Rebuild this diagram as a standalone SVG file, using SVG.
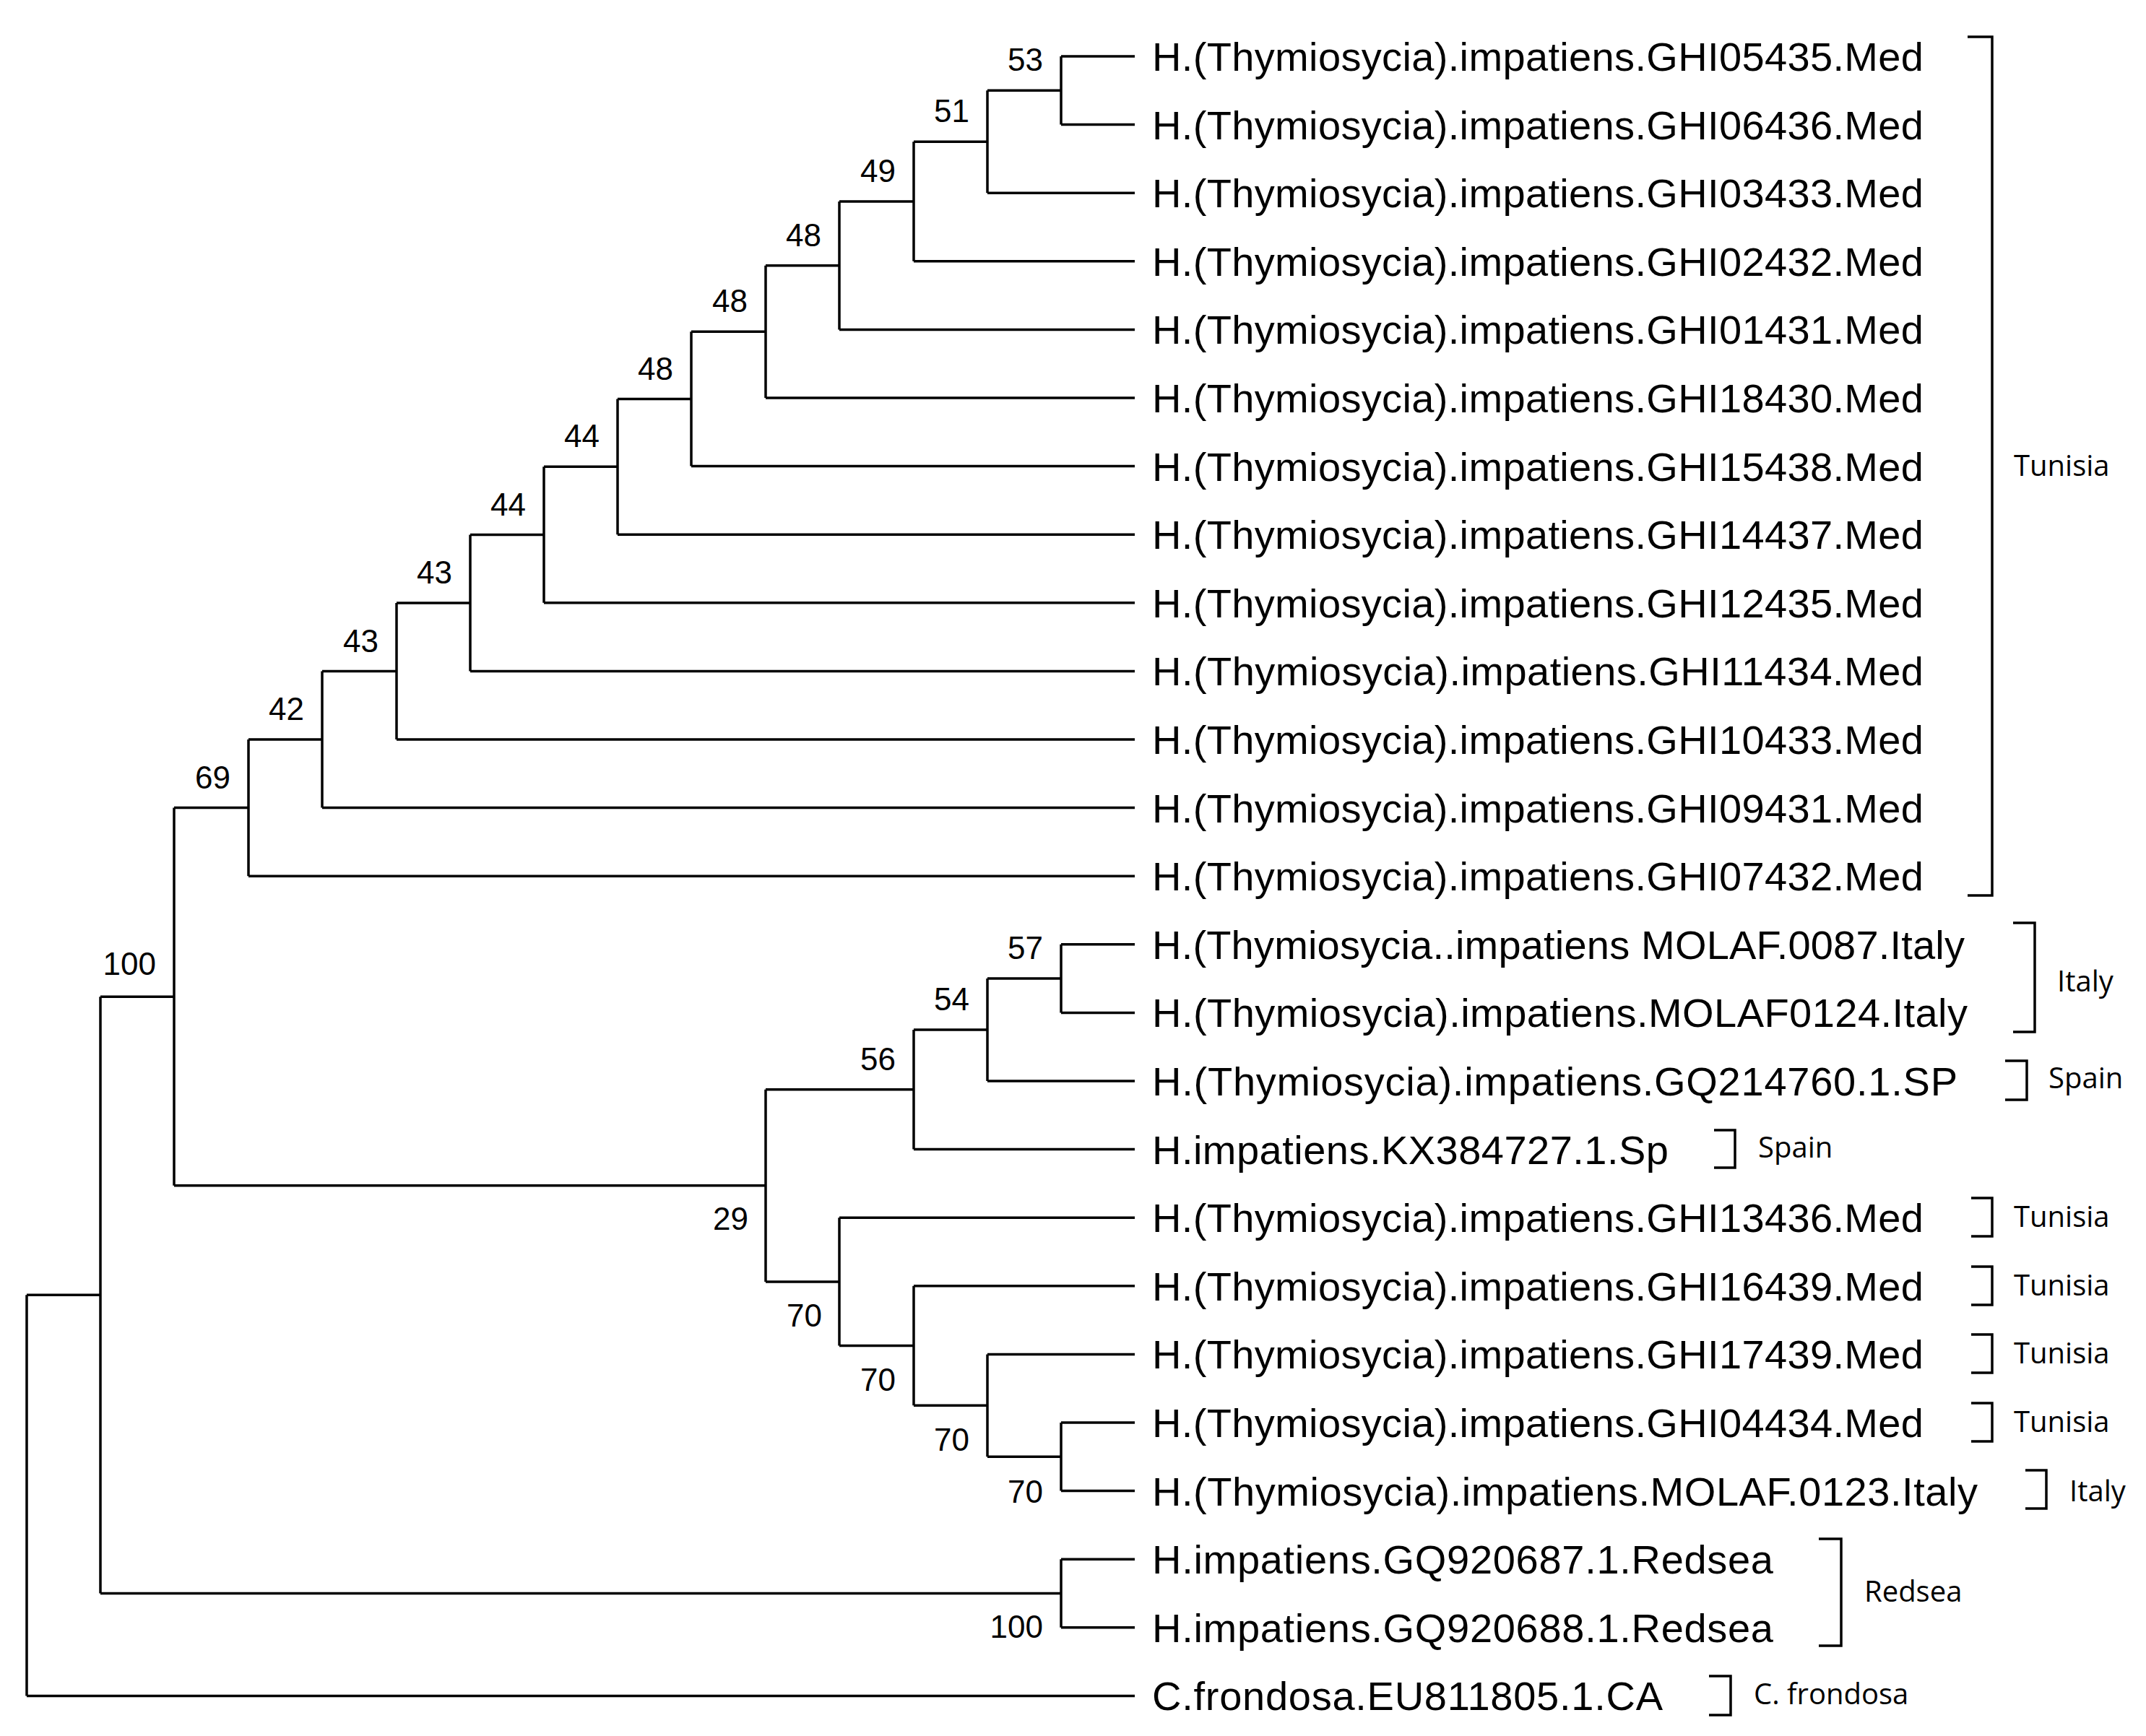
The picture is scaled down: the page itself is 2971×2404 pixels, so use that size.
<svg xmlns="http://www.w3.org/2000/svg" width="2971" height="2404" viewBox="0 0 2971 2404">
<style>
.t{fill:none;stroke:#000;stroke-width:3.5}
.b{fill:none;stroke:#000;stroke-width:3.5}
.bs{font-family:"Liberation Sans",Arial,sans-serif;font-size:44px;fill:#000;text-anchor:end}
.lf{font-family:"Liberation Sans",Arial,sans-serif;font-size:56px;fill:#000}
.rg{font-family:"Open Sans","Liberation Sans",sans-serif;font-size:40px;fill:#000}
</style>
<rect width="2971" height="2404" fill="#fff"/>
<g id="connectors">
<path class="t" d="M1469,78V172.6M1469,78H1571M1469,172.6H1571
M1367,125.3V267.2M1367,125.3H1469M1367,267.2H1571
M1265,196.25V361.8M1265,196.25H1367M1265,361.8H1571
M1162,279V456.4M1162,279H1265M1162,456.4H1571
M1060,367.7V551M1060,367.7H1162M1060,551H1571
M957,459.35V645.6M957,459.35H1060M957,645.6H1571
M855,552.5V740.2M855,552.5H957M855,740.2H1571
M753,646.35V834.8M753,646.35H855M753,834.8H1571
M651,740.6V929.4M651,740.6H753M651,929.4H1571
M549,835V1024M549,835H651M549,1024H1571
M446,929.5V1118.6M446,929.5H549M446,1118.6H1571
M344,1024.05V1213.2M344,1024.05H446M344,1213.2H1571
M1469,1307.8V1402.4M1469,1307.8H1571M1469,1402.4H1571
M1367,1355.1V1497M1367,1355.1H1469M1367,1497H1571
M1265,1426V1591.6M1265,1426H1367M1265,1591.6H1571
M1469,1970V2064.6M1469,1970H1571M1469,2064.6H1571
M1367,1875.4V2017.3M1367,1875.4H1571M1367,2017.3H1469
M1265,1780.8V1946.35M1265,1780.8H1571M1265,1946.35H1367
M1162,1686.2V1863.6M1162,1686.2H1571M1162,1863.6H1265
M1060,1508.8V1774.9M1060,1508.8H1265M1060,1774.9H1162
M241,1118.6V1641.85M241,1118.6H344M241,1641.85H1060
M1469,2159.2V2253.8M1469,2159.2H1571M1469,2253.8H1571
M139,1380.2V2206.5M139,1380.2H241M139,2206.5H1469
M37,1793.35V2348.4M37,1793.35H139M37,2348.4H1571"/>
</g>
<g id="bootstrap">
<text class="bs" x="1444" y="98">53</text>
<text class="bs" x="1342" y="169">51</text>
<text class="bs" x="1240" y="252">49</text>
<text class="bs" x="1137" y="341">48</text>
<text class="bs" x="1035" y="432">48</text>
<text class="bs" x="932" y="526">48</text>
<text class="bs" x="830" y="619">44</text>
<text class="bs" x="728" y="714">44</text>
<text class="bs" x="626" y="808">43</text>
<text class="bs" x="524" y="903">43</text>
<text class="bs" x="421" y="997">42</text>
<text class="bs" x="319" y="1092">69</text>
<text class="bs" x="216" y="1350">100</text>
<text class="bs" x="1444" y="1328">57</text>
<text class="bs" x="1342" y="1399">54</text>
<text class="bs" x="1240" y="1482">56</text>
<text class="bs" x="1036" y="1703">29</text>
<text class="bs" x="1138" y="1837">70</text>
<text class="bs" x="1240" y="1926">70</text>
<text class="bs" x="1342" y="2009">70</text>
<text class="bs" x="1444" y="2081">70</text>
<text class="bs" x="1444" y="2268">100</text>
</g>
<g id="leaves">
<text class="lf" x="1595" y="98" textLength="1068">H.(Thymiosycia).impatiens.GHI05435.Med</text>
<text class="lf" x="1595" y="192.6" textLength="1068">H.(Thymiosycia).impatiens.GHI06436.Med</text>
<text class="lf" x="1595" y="287.2" textLength="1068">H.(Thymiosycia).impatiens.GHI03433.Med</text>
<text class="lf" x="1595" y="381.8" textLength="1068">H.(Thymiosycia).impatiens.GHI02432.Med</text>
<text class="lf" x="1595" y="476.4" textLength="1068">H.(Thymiosycia).impatiens.GHI01431.Med</text>
<text class="lf" x="1595" y="571" textLength="1068">H.(Thymiosycia).impatiens.GHI18430.Med</text>
<text class="lf" x="1595" y="665.6" textLength="1068">H.(Thymiosycia).impatiens.GHI15438.Med</text>
<text class="lf" x="1595" y="760.2" textLength="1068">H.(Thymiosycia).impatiens.GHI14437.Med</text>
<text class="lf" x="1595" y="854.8" textLength="1068">H.(Thymiosycia).impatiens.GHI12435.Med</text>
<text class="lf" x="1595" y="949.4" textLength="1068">H.(Thymiosycia).impatiens.GHI11434.Med</text>
<text class="lf" x="1595" y="1044" textLength="1068">H.(Thymiosycia).impatiens.GHI10433.Med</text>
<text class="lf" x="1595" y="1138.6" textLength="1068">H.(Thymiosycia).impatiens.GHI09431.Med</text>
<text class="lf" x="1595" y="1233.2" textLength="1068">H.(Thymiosycia).impatiens.GHI07432.Med</text>
<text class="lf" x="1595" y="1327.8" textLength="1125">H.(Thymiosycia..impatiens MOLAF.0087.Italy</text>
<text class="lf" x="1595" y="1422.4" textLength="1129">H.(Thymiosycia).impatiens.MOLAF0124.Italy</text>
<text class="lf" x="1595" y="1517" textLength="1115">H.(Thymiosycia).impatiens.GQ214760.1.SP</text>
<text class="lf" x="1595" y="1611.6" textLength="715">H.impatiens.KX384727.1.Sp</text>
<text class="lf" x="1595" y="1706.2" textLength="1068">H.(Thymiosycia).impatiens.GHI13436.Med</text>
<text class="lf" x="1595" y="1800.8" textLength="1068">H.(Thymiosycia).impatiens.GHI16439.Med</text>
<text class="lf" x="1595" y="1895.4" textLength="1068">H.(Thymiosycia).impatiens.GHI17439.Med</text>
<text class="lf" x="1595" y="1990" textLength="1068">H.(Thymiosycia).impatiens.GHI04434.Med</text>
<text class="lf" x="1595" y="2084.6" textLength="1143">H.(Thymiosycia).impatiens.MOLAF.0123.Italy</text>
<text class="lf" x="1595" y="2179.2" textLength="860">H.impatiens.GQ920687.1.Redsea</text>
<text class="lf" x="1595" y="2273.8" textLength="860">H.impatiens.GQ920688.1.Redsea</text>
<text class="lf" x="1595" y="2368.4" textLength="707">C.frondosa.EU811805.1.CA</text>
</g>
<g id="regions">
<path class="b" d="M2724,51H2758V1240H2724
M2787,1278H2817V1429H2787
M2776,1469H2806V1523H2776
M2373,1565H2402V1617H2373
M2729,1659H2758V1712H2729
M2729,1754H2758V1807H2729
M2729,1848H2758V1901H2729
M2729,1943H2758V1996H2729
M2804,2036H2833V2089H2804
M2518,2131H2549V2279H2518
M2366,2321H2396V2375H2366"/>
<text class="rg" x="2788" y="659">Tunisia</text>
<text class="rg" x="2848" y="1373">Italy</text>
<text class="rg" x="2836" y="1507">Spain</text>
<text class="rg" x="2434" y="1603">Spain</text>
<text class="rg" x="2788" y="1699">Tunisia</text>
<text class="rg" x="2788" y="1794">Tunisia</text>
<text class="rg" x="2788" y="1888">Tunisia</text>
<text class="rg" x="2788" y="1983">Tunisia</text>
<text class="rg" x="2865" y="2079">Italy</text>
<text class="rg" x="2581" y="2218">Redsea</text>
<text class="rg" x="2428" y="2360">C. frondosa</text>
</g>
</svg>
